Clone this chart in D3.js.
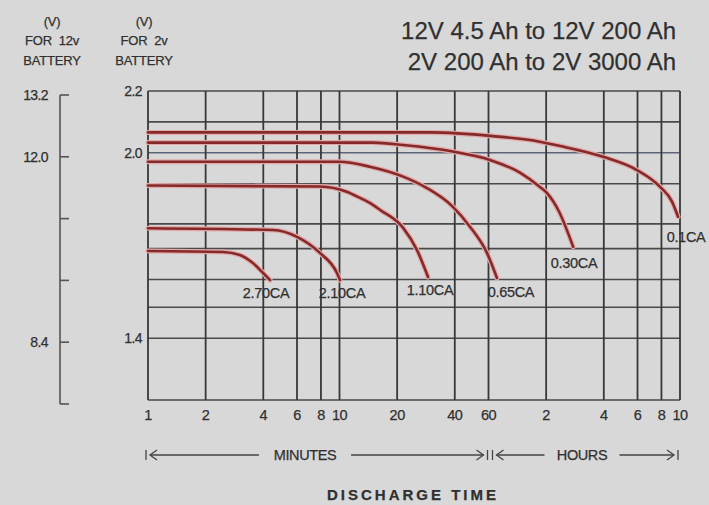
<!DOCTYPE html>
<html>
<head>
<meta charset="utf-8">
<script src="https://cdn.jsdelivr.net/npm/d3@7"></script>
<style>
    body { margin: 0; background: #d8d8d8; }
    text { font-family: Arial, "Liberation Sans", sans-serif; fill: #303030; stroke: #303030; stroke-width: 0.25; white-space: pre; }
</style>
</head>
<body>
<div id="chart"></div>
<script>
// discharge curves, [minutes, volts per cell]
var rate270 = [[1, 1.682], [2.46, 1.679], [3.02, 1.669], [3.53, 1.643], [3.99, 1.611], [4.34, 1.588]]
var rate210 = [[1, 1.756], [4.5, 1.750], [6, 1.728], [7.9, 1.676], [9.7, 1.611], [10.06, 1.588]]
var rate110 = [[1, 1.894], [7.9, 1.891], [10.9, 1.874], [12.8, 1.854], [14.4, 1.838], [16.3, 1.815], [21.5, 1.757], [25.4, 1.685], [29, 1.598]]
var rate065 = [[1, 1.971], [10, 1.971], [14.4, 1.955], [21.5, 1.923], [28.6, 1.886], [39, 1.826], [48, 1.761], [58.9, 1.676], [66.4, 1.595]]
var rate030 = [[1, 2.033], [15, 2.033], [21.5, 2.025], [39, 2.004], [61, 1.977], [88, 1.935], [111, 1.890], [121, 1.870], [140, 1.810], [166, 1.696]]
var rate010 = [[1, 2.066], [30, 2.066], [63, 2.054], [111, 2.036], [142, 2.022], [238, 1.987], [358, 1.944], [472, 1.890], [545, 1.842], [586, 1.793]]

var curveNames = ["2.70CA", "2.10CA", "1.10CA", "0.65CA", "0.30CA", "0.1CA"]
var curveData = [rate270, rate210, rate110, rate065, rate030, rate010]

// x ticks (minutes) and their labels
var timeTicks = [1, 2, 4, 6, 8, 10, 20, 40, 60, 120, 240, 360, 480, 600]
var timeLabels = ["1", "2", "4", "6", "8", "10", "20", "40", "60", "2", "4", "6", "8", "10"]

// horizontal grid (volts per cell), as drawn in the original
var gridVolts = [2.2, 2.1, 2.0, 1.9, 1.77, 1.69, 1.59, 1.5, 1.4, 1.2]
var cellLabels = [2.2, 2.0, 1.4]
var batTicks = [13.2, 12.0, 10.8, 9.6, 8.4, 7.2]
var batLabels = [13.2, 12.0, 8.4]

var width = 709, height = 505

var svg = d3.select("#chart")
    .append("svg")
    .attr("width", width)
    .attr("height", height)

svg.append("rect").attr("width", width).attr("height", height).attr("fill", "#d8d8d8")

var x = d3.scaleLog().domain([1, 600]).range([148, 680])
var y = d3.scaleLinear().domain([1.2, 2.2]).range([400, 91])
var y12 = d3.scaleLinear().domain([7.2, 13.2]).range([404, 95])

// GRID
var grid = svg.append("g")

grid.selectAll(".hgrid")
    .data(gridVolts)
    .enter().append("line")
    .attr("class", "hgrid")
    .attr("x1", x(1)).attr("x2", x(600))
    .attr("y1", d => y(d)).attr("y2", d => y(d))
    .attr("stroke", d => d == 2.0 ? "#5d6478" : "#4a4a4a")
    .attr("stroke-width", 1.6)

grid.selectAll(".vgrid")
    .data(timeTicks)
    .enter().append("line")
    .attr("class", "vgrid")
    .attr("x1", d => x(d)).attr("x2", d => x(d))
    .attr("y1", y(2.2)).attr("y2", y(1.2))
    .attr("stroke", "#383838")
    .attr("stroke-width", 1.8)

// CURVES
var line = d3.line()
    .x(d => x(d[0]))
    .y(d => y(d[1]))
    .curve(d3.curveMonotoneX)

var curves = svg.append("g")

curves.selectAll(".halo")
    .data(curveData)
    .enter().append("path")
    .attr("class", "halo")
    .attr("d", line)
    .attr("fill", "none")
    .attr("stroke", "#e3a9a9")
    .attr("stroke-width", 5)
    .attr("stroke-linecap", "round")

curves.selectAll(".curve")
    .data(curveData)
    .enter().append("path")
    .attr("class", "curve")
    .attr("d", line)
    .attr("fill", "none")
    .attr("stroke", "#852a2a")
    .attr("stroke-width", 2.6)
    .attr("stroke-linecap", "round")

// labels under the end of each curve
var labelShift = { "2.70CA": [-4, 13], "0.65CA": [14, 14], "0.1CA": [8, 20], "0.30CA": [1, 16] }

curves.selectAll(".rate")
    .data(curveData)
    .enter().append("text")
    .attr("class", "rate")
    .attr("x", (d, i) => x(d[d.length - 1][0]) + (labelShift[curveNames[i]] || [2, 13])[0])
    .attr("y", (d, i) => y(d[d.length - 1][1]) + (labelShift[curveNames[i]] || [2, 13])[1])
    .attr("dy", "0.35em")
    .attr("text-anchor", "middle")
    .attr("font-size", 14.5)
    .attr("letter-spacing", -0.3)
    .text((d, i) => curveNames[i])

// X AXIS LABELS
svg.selectAll(".xlab")
    .data(timeTicks)
    .enter().append("text")
    .attr("class", "xlab")
    .attr("x", d => x(d))
    .attr("y", 415)
    .attr("dy", "0.35em")
    .attr("text-anchor", "middle")
    .attr("font-size", 14.5)
    .attr("letter-spacing", -0.5)
    .text((d, i) => timeLabels[i])

// 2V AXIS LABELS
svg.selectAll(".ylab")
    .data(cellLabels)
    .enter().append("text")
    .attr("class", "ylab")
    .attr("x", 142)
    .attr("y", d => y(d))
    .attr("dy", "0.35em")
    .attr("text-anchor", "end")
    .attr("font-size", 14)
    .attr("letter-spacing", -0.6)
    .text(d => d.toFixed(1))

// 12V AXIS
var bat = svg.append("g")

bat.append("line")
    .attr("x1", 60).attr("x2", 60)
    .attr("y1", y12(13.2)).attr("y2", y12(7.2))
    .attr("stroke", "#555").attr("stroke-width", 1.6)

bat.selectAll(".btick")
    .data(batTicks)
    .enter().append("line")
    .attr("class", "btick")
    .attr("x1", 60).attr("x2", 69)
    .attr("y1", d => y12(d)).attr("y2", d => y12(d))
    .attr("stroke", "#555").attr("stroke-width", 1.6)

bat.selectAll(".blab")
    .data(batLabels)
    .enter().append("text")
    .attr("class", "blab")
    .attr("x", 48)
    .attr("y", d => y12(d))
    .attr("dy", "0.35em")
    .attr("text-anchor", "end")
    .attr("font-size", 14)
    .attr("letter-spacing", -0.6)
    .text(d => d.toFixed(1))

// HEADERS
var heads = [
    { x: 52, lines: ["(V)", "FOR  12v", "BATTERY"] },
    { x: 144, lines: ["(V)", "FOR  2v", "BATTERY"] }
]
heads.forEach(function (h) {
    h.lines.forEach(function (t, i) {
        svg.append("text")
            .attr("x", h.x)
            .attr("y", 21 + i * 19.5)
            .attr("dy", "0.35em")
            .attr("text-anchor", "middle")
            .attr("font-size", 13)
            .attr("letter-spacing", -0.2)
            .text(t)
    })
})

svg.append("text")
    .attr("x", 676).attr("y", 31).attr("dy", "0.35em")
    .attr("text-anchor", "end")
    .attr("font-size", 24)
    .attr("fill", "#444").attr("stroke", "none")
    .text("12V 4.5 Ah to 12V 200 Ah")

svg.append("text")
    .attr("x", 676).attr("y", 62).attr("dy", "0.35em")
    .attr("text-anchor", "end")
    .attr("font-size", 24)
    .attr("fill", "#444").attr("stroke", "none")
    .text("2V 200 Ah to 2V 3000 Ah")

// TIME SPAN ARROWS
var ay = 455
var arrows = svg.append("g").attr("stroke", "#444").attr("stroke-width", 1.3).attr("fill", "none")

function span(x0, x1, label, cx) {
    var tw = label.length * 8.6
    arrows.append("line").attr("x1", x0).attr("x2", x0).attr("y1", ay - 5).attr("y2", ay + 5)
    arrows.append("line").attr("x1", x1).attr("x2", x1).attr("y1", ay - 5).attr("y2", ay + 5)
    arrows.append("line").attr("x1", x0 + 4).attr("x2", cx - tw / 2 - 16).attr("y1", ay).attr("y2", ay)
    arrows.append("line").attr("x1", cx + tw / 2 + 16).attr("x2", x1 - 4).attr("y1", ay).attr("y2", ay)
    arrows.append("path").attr("d", `M${x0 + 11},${ay - 5}L${x0 + 4},${ay}L${x0 + 11},${ay + 5}`)
    arrows.append("path").attr("d", `M${x1 - 11},${ay - 5}L${x1 - 4},${ay}L${x1 - 11},${ay + 5}`)
    svg.append("text")
        .attr("x", cx).attr("y", ay).attr("dy", "0.35em")
        .attr("text-anchor", "middle")
        .attr("font-size", 14.5)
        .attr("letter-spacing", -0.4)
        .text(label)
}
span(x(1) - 2, x(60) - 1, "MINUTES", 305)
span(x(60) + 4, x(600) - 2, "HOURS", 582)

svg.append("text")
    .attr("x", 413).attr("y", 495).attr("dy", "0.35em")
    .attr("text-anchor", "middle")
    .attr("font-size", 15)
    .attr("font-weight", "bold")
    .attr("letter-spacing", 3)
    .text("DISCHARGE TIME")
</script>
</body>
</html>
